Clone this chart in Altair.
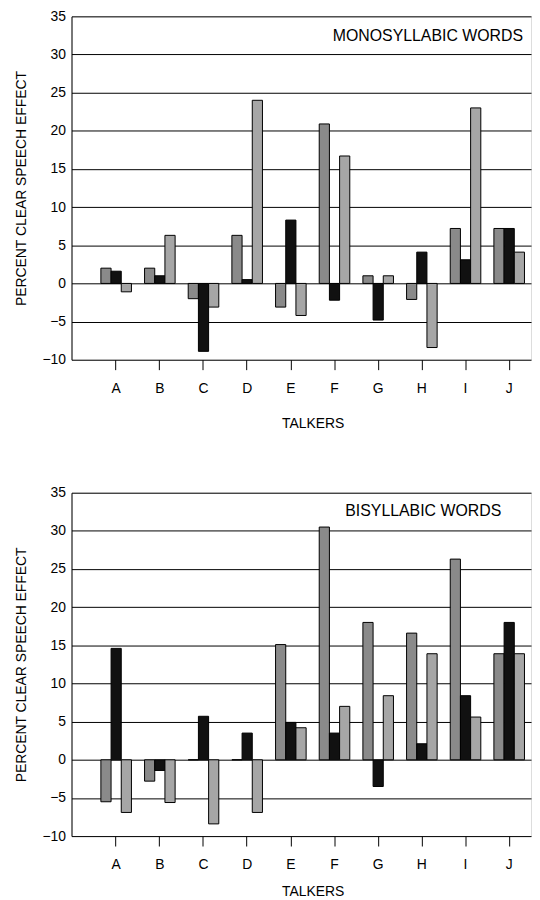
import altair as alt
import pandas as pd

talkers = list("ABCDEFGHIJ")
series = ["S1", "S2", "S3"]

mono_1 = [2.0, 2.0, -2.0, 6.3, -3.1, 20.9, 1.0, -2.1, 7.2, 7.2]
mono_2 = [1.6, 1.0, -8.9, 0.5, 8.3, -2.2, -4.8, 4.1, 3.1, 7.2]
mono_3 = [-1.1, 6.3, -3.1, 24.0, -4.2, 16.7, 1.0, -8.4, 23.0, 4.1]

bi_1 = [-5.5, -2.8, 0.0, 0.0, 15.1, 30.5, 18.0, 16.6, 26.3, 13.9]
bi_2 = [14.6, -1.4, 5.7, 3.5, 4.9, 3.5, -3.5, 2.1, 8.4, 18.0]
bi_3 = [-6.9, -5.6, -8.4, -6.9, 4.2, 7.0, 8.4, 13.9, 5.6, 13.9]

y_ticks = [-10, -5, 0, 5, 10, 15, 20, 25, 30, 35]
bar_colors = ["#8a8a8a", "#111111", "#a6a6a6"]

FONT = "Liberation Sans"


def panel(v1, v2, v3, label, label_x, label_y, title_pad):
    df = pd.DataFrame({
        "talker": talkers * 3,
        "series": [series[0]] * 10 + [series[1]] * 10 + [series[2]] * 10,
        "value": v1 + v2 + v3,
    })
    bars = alt.Chart(df).mark_bar(stroke="black", strokeWidth=1).encode(
        x=alt.X(
            "talker:N",
            sort=talkers,
            scale=alt.Scale(paddingInner=0.3, paddingOuter=0.411, align=0.818),
            axis=alt.Axis(
                title="TALKERS",
                titleX=243,
                titleAlign="center",
                domain=False,
                ticks=True,
                tickSize=10,
                tickColor="black",
                tickWidth=1,
                labelAngle=0,
                labelFontSize=14,
                labelColor="black",
                labelFont=FONT,
                labelPadding=12,
                titleFont=FONT,
                titleFontSize=14,
                titleFontWeight="normal",
                titleColor="black",
                titlePadding=title_pad,
                grid=False,
            ),
        ),
        xOffset=alt.XOffset("series:N", sort=series),
        y=alt.Y(
            "value:Q",
            scale=alt.Scale(domain=[-10, 35], nice=False),
            axis=alt.Axis(
                title="PERCENT CLEAR SPEECH EFFECT",
                values=y_ticks,
                labelOverlap=False,
                ticks=False,
                labelPadding=6,
                labelFontSize=14,
                labelColor="black",
                labelFont=FONT,
                domainColor="black",
                domainWidth=1,
                grid=True,
                gridColor="black",
                gridOpacity=1,
                gridWidth=1,
                titleFont=FONT,
                titleFontSize=14,
                titleFontWeight="normal",
                titleColor="black",
                titlePadding=14,
            ),
        ),
        color=alt.Color(
            "series:N",
            sort=series,
            scale=alt.Scale(domain=series, range=bar_colors),
            legend=None,
        ),
    )
    txt = alt.Chart(pd.DataFrame({"label": [label]})).mark_text(
        align="right", baseline="middle", fontSize=16, font=FONT, color="black"
    ).encode(
        text="label:N",
        x=alt.value(label_x),
        y=alt.value(label_y),
    )
    return alt.layer(bars, txt).properties(width=463, height=346)


top = panel(mono_1, mono_2, mono_3, "MONOSYLLABIC WORDS", 455, 20, 21)
bottom = panel(bi_1, bi_2, bi_3, "BISYLLABIC WORDS", 433, 18, 13)

chart = alt.vconcat(top, bottom, spacing=54, padding={"left": 5, "top": -3, "right": 0, "bottom": 0}
).configure_view(stroke=None).configure(background="white")

chart.save("out.html", embed_options={"renderer": "svg", "actions": False})
